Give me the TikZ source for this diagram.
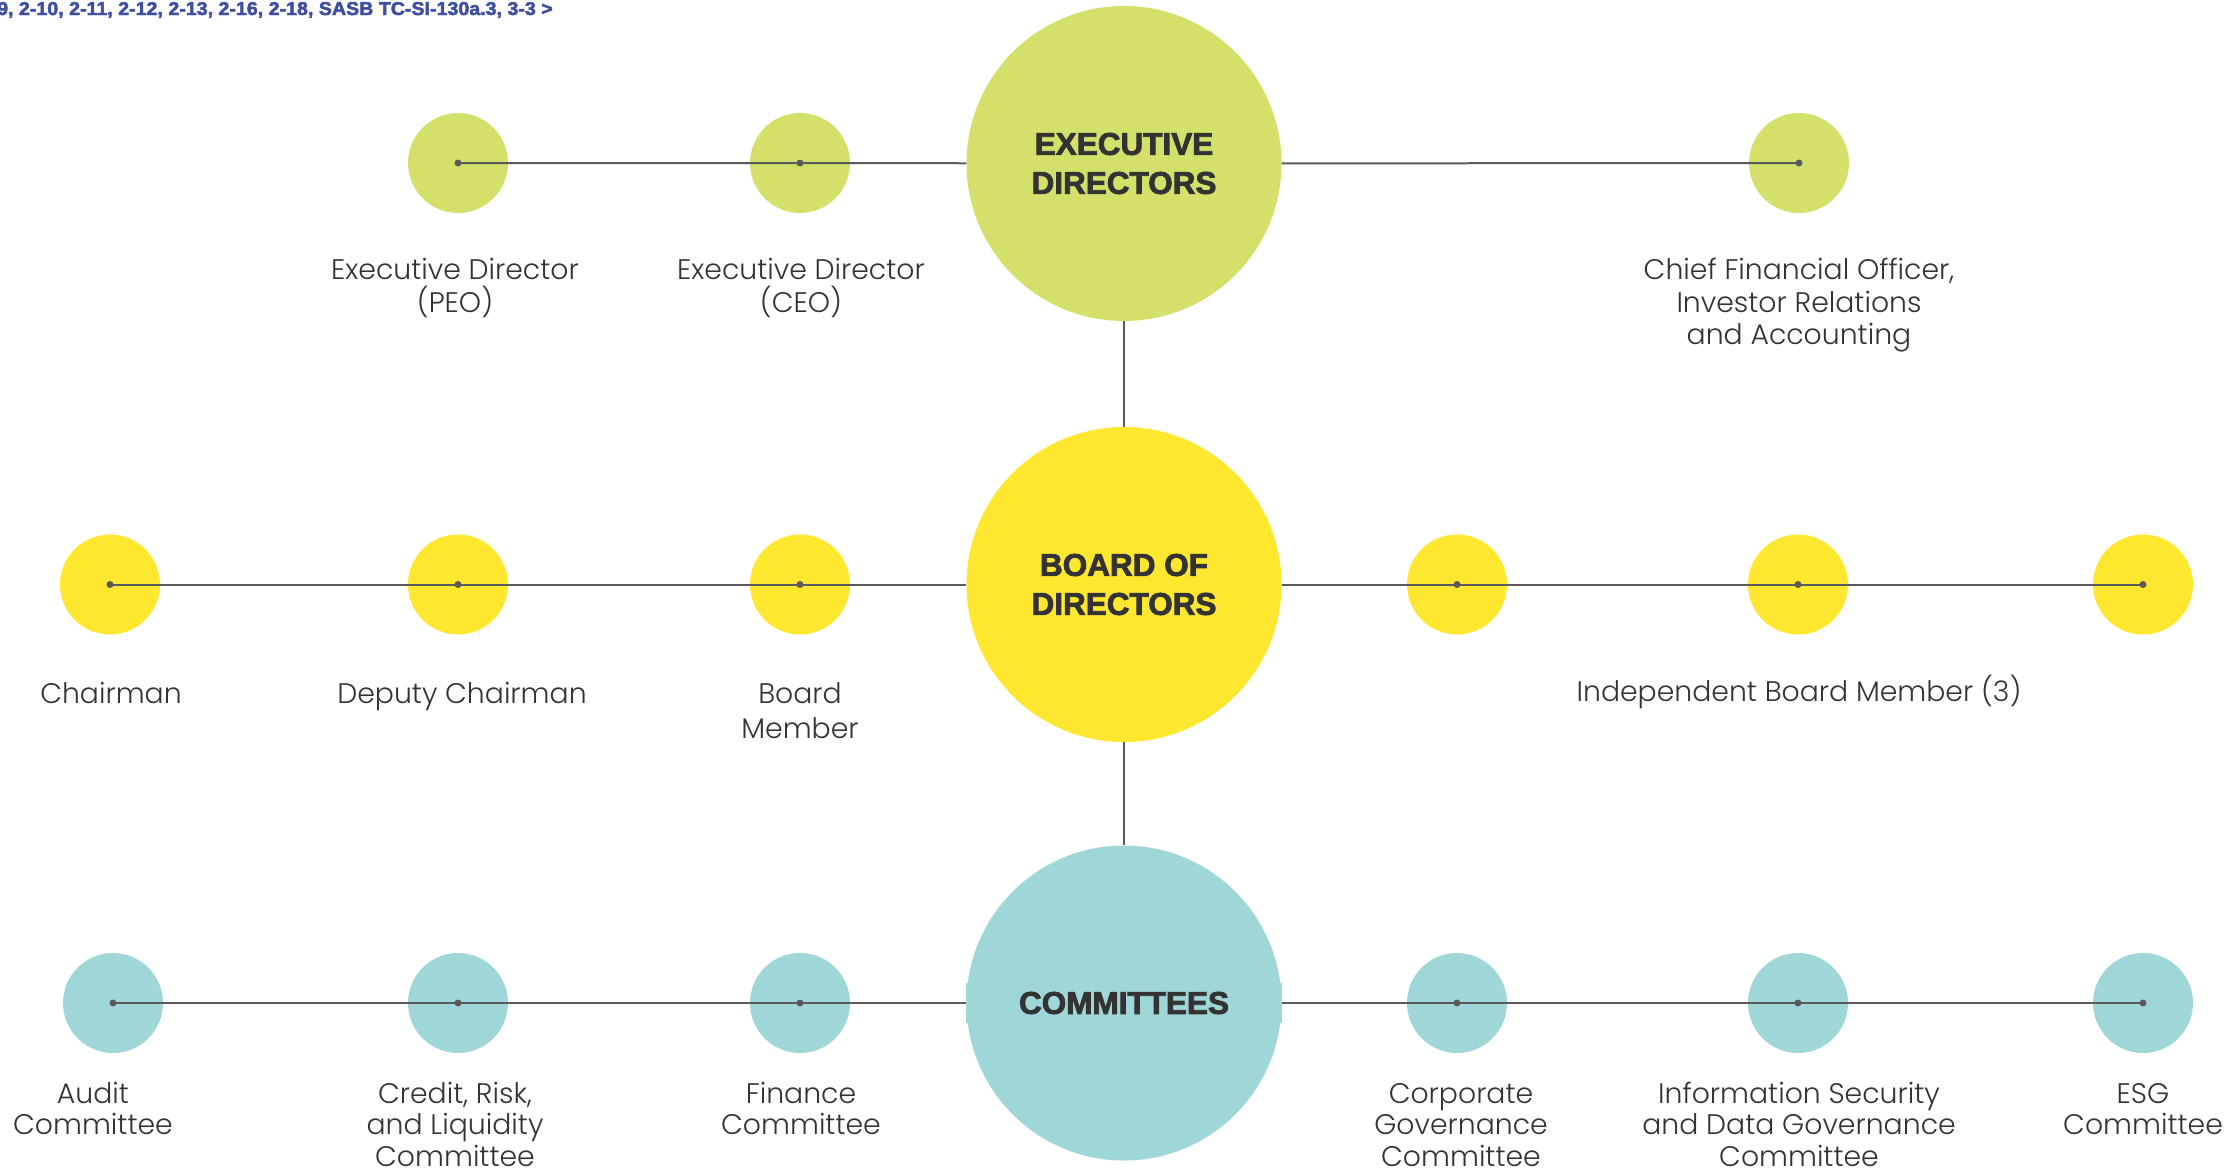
\documentclass[tikz,border=0pt]{standalone}
\usepackage{fontspec}
\usepackage{graphicx}
\setmainfont{Poppins}[UprightFont={* Light}]
\newfontfamily\heavyfont{Liberation Sans}[BoldFeatures={FakeBold=2.5}]
\definecolor{execfill}{HTML}{D5E06B}
\definecolor{boardfill}{HTML}{FFE62F}
\definecolor{commfill}{HTML}{9FD6D7}
\definecolor{ink}{HTML}{333333}
\definecolor{linkgray}{HTML}{5A5A5A}
\definecolor{refblue}{HTML}{3E4FA1}
\tikzset{
  bigcircle/.style={circle, minimum size=315pt, inner sep=0pt, text=ink, align=center,
    font=\heavyfont\bfseries\fontsize{31.5}{39}\selectfont},
  smallcircle/.style={circle, minimum size=100pt, inner sep=0pt},
  link/.style={draw=linkgray, line width=2pt},
  lbl/.style={font=\fontsize{28.3}{32.5}\selectfont, text=ink, align=center, anchor=base, inner sep=0pt},
  lblc/.style={lbl, font=\fontsize{28.3}{31.5}\selectfont},
}
\begin{document}
\begin{tikzpicture}[x=1pt, y=-1pt]
\useasboundingbox (0,0) rectangle (2231,1170);

% header reference line
\node[anchor=base east, inner sep=0pt, text=refblue] (hdr) at (553,15)
  {\resizebox{573pt}{13pt}{\heavyfont\bfseries 2-9, 2-10, 2-11, 2-12, 2-13, 2-16, 2-18, SASB TC-SI-130a.3, 3-3 >}};

% main bodies
\node[bigcircle, fill=execfill] (ex) at (1124,163.5) {EXECUTIVE\\DIRECTORS};
\node[bigcircle, fill=boardfill] (bd) at (1124,584.5) {BOARD OF\\DIRECTORS};
\fill[commfill] (966,983) rectangle (1282,1023);
\node[bigcircle, fill=commfill] (cm) at (1124,1003) {COMMITTEES};

% members
\node[smallcircle, fill=execfill] (pe) at (458,163) {};
\node[smallcircle, fill=execfill] (ce) at (800,163) {};
\node[smallcircle, fill=execfill] (cf) at (1799,163) {};

\node[smallcircle, fill=boardfill] (ch) at (110,584.5) {};
\node[smallcircle, fill=boardfill] (dc) at (458,584.5) {};
\node[smallcircle, fill=boardfill] (bm) at (800,584.5) {};
\node[smallcircle, fill=boardfill] (i1) at (1457,584.5) {};
\node[smallcircle, fill=boardfill] (i2) at (1798,584.5) {};
\node[smallcircle, fill=boardfill] (i3) at (2143,584.5) {};

\node[smallcircle, fill=commfill] (au) at (113,1003) {};
\node[smallcircle, fill=commfill] (cr) at (458,1003) {};
\node[smallcircle, fill=commfill] (fi) at (800,1003) {};
\node[smallcircle, fill=commfill] (co) at (1457,1003) {};
\node[smallcircle, fill=commfill] (is) at (1798,1003) {};
\node[smallcircle, fill=commfill] (es) at (2143,1003) {};

% connectors
\draw[link] (ex) -- (bd);
\draw[link] (bd) -- (cm);
\draw[link] (pe.center) -- (ce.center) -- (ex);
\draw[link] (ex) -- (cf.center);
\draw[link] (ch.center) -- (dc.center) -- (bm.center) -- (bd);
\draw[link] (bd) -- (i1.center) -- (i2.center) -- (i3.center);
\draw[link] (au.center) -- (cr.center) -- (fi.center) -- (cm);
\draw[link] (cm) -- (co.center) -- (is.center) -- (es.center);

\foreach \m in {pe,ce,cf,ch,dc,bm,i1,i2,i3,au,cr,fi,co,is,es}
  \fill[linkgray] (\m.center) circle (3.5pt);

% labels (anchored at the baseline of their last line)
\node[lbl] (pel) at (455,312) {Executive Director\\(PEO)};
\node[lbl] (cel) at (801,312) {Executive Director\\(CEO)};
\node[lbl] (cfl) at (1799,344.5) {Chief Financial Officer,\\Investor Relations\\and Accounting};

\node[lbl] (chl) at (111,703) {Chairman};
\node[lbl] (dcl) at (462,703) {Deputy Chairman};
\node[lbl, font=\fontsize{28.3}{35.5}\selectfont] (bml) at (800,738.5) {Board\\Member};
\node[lbl] (ibl) at (1799,701.5) {Independent Board Member (3)};

\node[lblc] (aul) at (93,1134.5) {Audit\\Committee};
\node[lblc] (crl) at (455,1166) {Credit, Risk,\\and Liquidity\\Committee};
\node[lblc] (fil) at (801,1134.5) {Finance\\Committee};
\node[lblc] (col) at (1461,1166) {Corporate\\Governance\\Committee};
\node[lblc] (isl) at (1799,1166) {Information Security\\and Data Governance\\Committee};
\node[lblc] (esl) at (2143,1134.5) {ESG\\Committee};
\end{tikzpicture}
\end{document}
